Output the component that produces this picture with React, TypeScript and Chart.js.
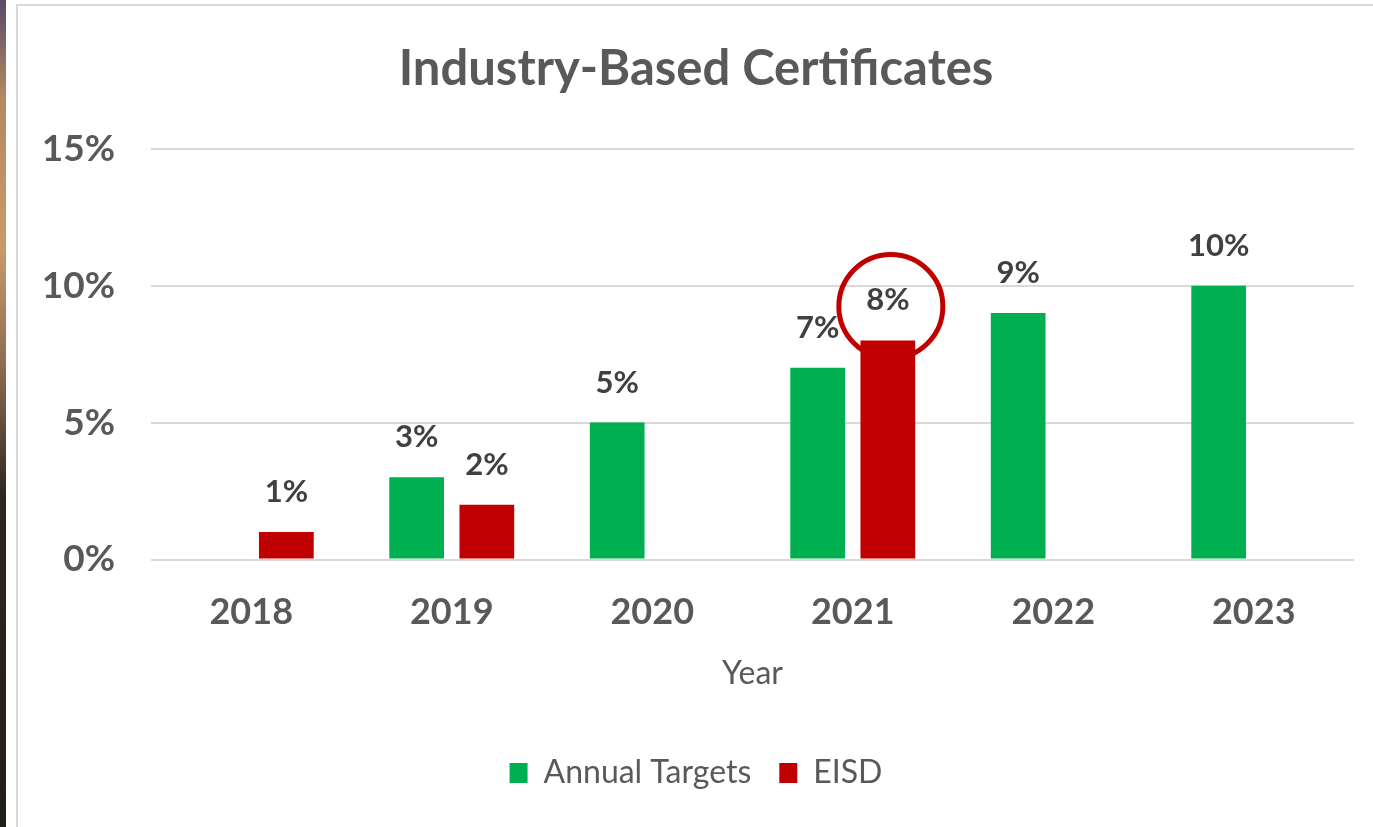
import React, { useEffect, useRef } from "react";
import { Chart, registerables } from "chart.js";

Chart.register(...registerables);

const years = ["2018", "2019", "2020", "2021", "2022", "2023"];
const annualTargets: (number | null)[] = [null, 3, 5, 7, 9, 10];
const eisd: (number | null)[] = [1, 2, null, 8, null, null];
const yMin = 0;
const yMax = 15;
const yStep = 5;
const highlightYearIndex = 3;

const FONT = "Lato, 'Open Sans', sans-serif";
const GREEN = "#00B050";
const RED = "#C00000";
const TEXT = "#595959";

const labelsPlugin = {
  id: "barLabels",
  afterDatasetsDraw(chart: any) {
    const ctx = chart.ctx;
    ctx.save();
    ctx.font = `bold 31px ${FONT}`;
    ctx.fillStyle = "#404040";
    ctx.textAlign = "center";
    ctx.textBaseline = "middle";
    chart.data.datasets.forEach((ds: any, di: number) => {
      const meta = chart.getDatasetMeta(di);
      meta.data.forEach((el: any, i: number) => {
        const v = ds.data[i];
        if (v === null || v === undefined) return;
        ctx.fillText(`${v}%`, el.x, el.y - 40);
      });
    });
    // highlight circle around EISD 2021 label
    const el = chart.getDatasetMeta(1).data[highlightYearIndex];
    if (el) {
      ctx.beginPath();
      ctx.arc(el.x + 3, el.y - 34, 52, 0, Math.PI * 2);
      ctx.lineWidth = 5;
      ctx.strokeStyle = RED;
      ctx.stroke();
    }
    ctx.restore();
  },
};

export default function App() {
  const ref = useRef<HTMLCanvasElement>(null);
  useEffect(() => {
    if (!ref.current) return;
    const chart = new Chart(ref.current, {
      type: "bar",
      data: {
        labels: years,
        datasets: [
          { label: "Annual Targets", data: annualTargets, backgroundColor: GREEN, categoryPercentage: 0.7, barPercentage: 0.78 },
          { label: "EISD", data: eisd, backgroundColor: RED, categoryPercentage: 0.7, barPercentage: 0.78 },
        ],
      },
      options: {
        animation: false,
        responsive: false,
        maintainAspectRatio: false,
        layout: { padding: { left: 38, right: 19, top: 0, bottom: 28 } },
        plugins: {
          title: {
            display: true,
            text: "Industry-Based Certificates",
            color: TEXT,
            font: { family: FONT, size: 49, weight: "bold" },
            padding: { top: 40, bottom: 50 },
          },
          legend: {
            position: "bottom",
            labels: {
              color: TEXT,
              font: { family: FONT, size: 32 },
              boxWidth: 18,
              boxHeight: 20,
              padding: 28,
            },
          },
          tooltip: { enabled: false },
        },
        scales: {
          x: {
            grid: { display: false },
            border: { display: false },
            ticks: { color: TEXT, font: { family: FONT, size: 36, weight: "bold" }, padding: 23 },
            title: {
              display: true,
              text: "Year",
              color: TEXT,
              font: { family: FONT, size: 32 },
              padding: { top: 0, bottom: 36 },
            },
            afterFit(scale: any) {
              scale.height = 169.5;
            },
          },
          y: {
            min: yMin,
            max: yMax,
            grid: { color: "#D9D9D9", lineWidth: 2, drawTicks: false },
            border: { display: false },
            ticks: {
              stepSize: yStep,
              color: TEXT,
              font: { family: FONT, size: 37, weight: "bold" },
              padding: 36,
              callback: (v: any) => `${v}%`,
            },
            afterFit(scale: any) {
              scale.width = 113;
            },
          },
        },
      },
      plugins: [labelsPlugin],
    });
    return () => chart.destroy();
  }, []);

  return (
    <div style={{ position: "fixed", left: 0, top: 0, width: 1373, height: 827, background: "#fff", overflow: "hidden" }}>
      <div
        style={{
          position: "absolute",
          left: 0,
          top: 0,
          width: 6,
          height: 827,
          background: "linear-gradient(to bottom, #5a4a6a 0%, #b58a60 12%, #c89a6a 30%, #8a6a50 45%, #2e2620 60%, #221e1a 100%)",
        }}
      />
      <div
        style={{
          position: "absolute",
          left: 16,
          top: 4,
          width: 1373,
          height: 900,
          borderLeft: "2px solid #D9D9D9",
          borderTop: "2px solid #D9D9D9",
        }}
      />
      <canvas ref={ref} width={1373} height={827} style={{ position: "absolute", left: 0, top: 0, width: 1373, height: 827 }} />
    </div>
  );
}
